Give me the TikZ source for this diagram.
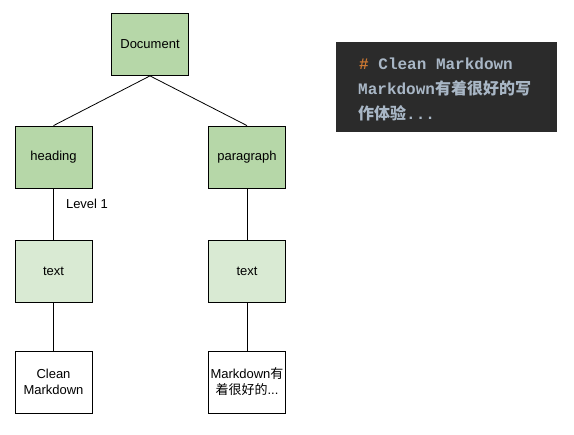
\documentclass[tikz,border=0pt]{standalone}
\usepackage{fontspec}
\setmainfont{Liberation Sans}
\newfontfamily\cjk{Noto Sans CJK SC}
\newfontfamily\mono{Liberation Mono}
\definecolor{gdark}{HTML}{B6D7A8}
\definecolor{glight}{HTML}{D9EAD3}
\definecolor{codebg}{HTML}{2B2B2B}
\definecolor{codefg}{HTML}{A9B7C6}
\definecolor{codeor}{HTML}{CC7832}
\begin{document}
\begin{tikzpicture}[x=1pt,y=-1pt,
  box/.style={draw=black, line width=0.8pt, minimum width=77pt, minimum height=62pt, inner sep=1pt, align=center, font=\fontsize{13}{16}\selectfont},
  lvl1/.style={box, fill=gdark},
  lvl2/.style={box, fill=glight},
  leaf/.style={box, fill=white},
  edge/.style={draw=black, line width=0.8pt},
  codeline/.style={anchor=west, inner sep=0pt, text=codefg, font=\fontsize{16}{18}\selectfont\mono\bfseries}
]
\useasboundingbox (0,0) rectangle (574,435);
\fill[white] (0,0) rectangle (574,435);
\node[lvl1] (doc) at (150,44.5) {Document};
\node[lvl1] (head) at (53.5,157) {heading};
\node[lvl1] (para) at (247,157) {paragraph};
\node[lvl2] (t1) at (53.5,271) {text};
\node[lvl2] (t2) at (247,271) {text};
\node[leaf] (l1) at (53.5,382) {Clean\\Markdown};
\node[leaf] (l2) at (247,382) {Markdown{\cjk 有}\\{\cjk 着很好的}...};
\draw[edge] (doc.south) -- (head.north);
\draw[edge] (doc.south) -- (para.north);
\draw[edge] (head) -- (t1);
\draw[edge] (t1) -- (l1);
\draw[edge] (para) -- (t2);
\draw[edge] (t2) -- (l2);
\node[font=\fontsize{13}{16}\selectfont, inner sep=0pt] (lv) at (87,204) {Level 1};
\node[fill=codebg, minimum width=221pt, minimum height=90pt, anchor=north west, inner sep=0pt] (code) at (336,42) {};
\node[codeline] (c1) at (359,64) {\textcolor{codeor}{\#} Clean Markdown};
\node[codeline] (c2) at (358,88.5) {Markdown{\cjk\bfseries 有着很好的写}};
\node[codeline] (c3) at (358,113) {{\cjk\bfseries 作体验}...};
\end{tikzpicture}
\end{document}
